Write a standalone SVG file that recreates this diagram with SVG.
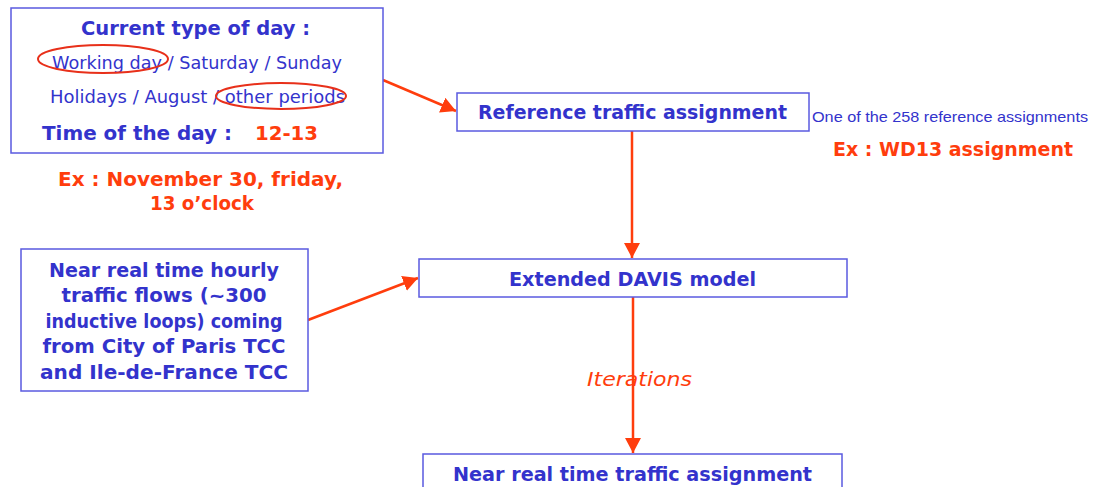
<svg xmlns="http://www.w3.org/2000/svg" width="1093" height="487" viewBox="0 0 1093 487">
<defs>
<style>
.box{fill:#fff;stroke:#5a5ae0;stroke-width:1.5}
.t{font-family:"DejaVu Sans","Liberation Sans",sans-serif;fill:#3333cc}
.n{font-family:"Liberation Sans","DejaVu Sans",sans-serif;fill:#3333cc}
.b{font-weight:bold}
.r{fill:#ff3d0d}
.edge{stroke:#ff3d0d;stroke-width:2.5;fill:none}
.oval{fill:none;stroke:#e8301a;stroke-width:2}
</style>
<marker id="ah" viewBox="0 0 15 16" refX="15" refY="8" markerWidth="15" markerHeight="16" markerUnits="userSpaceOnUse" orient="auto">
<path d="M0,0 L15,8 L0,16 z" fill="#ff3d0d"/>
</marker>
</defs>
<rect width="1093" height="487" fill="#fff"/>
<g id="connectors">
<line class="edge" x1="383" y1="80" x2="456" y2="111" marker-end="url(#ah)"/>
<line class="edge" x1="632" y1="131" x2="632" y2="258" marker-end="url(#ah)"/>
<line class="edge" x1="308" y1="320" x2="418" y2="278" marker-end="url(#ah)"/>
<line class="edge" x1="633" y1="297" x2="633" y2="453" marker-end="url(#ah)"/>
<text class="t r" x="587" y="386" font-size="20" font-style="italic" textLength="105" lengthAdjust="spacingAndGlyphs">Iterations</text>
</g>
<g id="day-box">
<rect class="box" x="11" y="8" width="372" height="145"/>
<text class="t b" x="81" y="35" font-size="20" textLength="229" lengthAdjust="spacingAndGlyphs">Current type of day :</text>
<text class="t" x="52" y="69" font-size="18" textLength="290" lengthAdjust="spacingAndGlyphs">Working day / Saturday / Sunday</text>
<text class="t" x="50" y="103" font-size="18" textLength="295" lengthAdjust="spacingAndGlyphs">Holidays / August / other periods</text>
<text class="t b" x="42" y="140" font-size="20" textLength="190" lengthAdjust="spacingAndGlyphs">Time of the day :</text>
<text class="t b r" x="255" y="140" font-size="20" textLength="63" lengthAdjust="spacingAndGlyphs">12-13</text>
<ellipse class="oval" cx="103" cy="59" rx="65" ry="14"/>
<ellipse class="oval" cx="281" cy="96" rx="65" ry="13"/>
</g>
<g id="example-date">
<text class="t b r" x="58" y="186" font-size="20" textLength="285" lengthAdjust="spacingAndGlyphs">Ex : November 30, friday,</text>
<text class="t b r" x="150" y="210" font-size="20" textLength="104" lengthAdjust="spacingAndGlyphs">13 o’clock</text>
</g>
<g id="reference-assignment">
<rect class="box" x="457" y="93" width="352" height="38"/>
<text class="t b" x="478" y="119" font-size="20" textLength="309" lengthAdjust="spacingAndGlyphs">Reference traffic assignment</text>
</g>
<g id="reference-note">
<text class="n" x="812" y="122" font-size="15" textLength="276" lengthAdjust="spacingAndGlyphs">One of the 258 reference assignments</text>
<text class="t b r" x="833" y="156" font-size="20" textLength="240" lengthAdjust="spacingAndGlyphs">Ex : WD13 assignment</text>
</g>
<g id="flows-box">
<rect class="box" x="21" y="249" width="287" height="142"/>
<g class="t b" font-size="19" text-anchor="middle">
<text x="164" y="277" textLength="230" lengthAdjust="spacingAndGlyphs">Near real time hourly</text>
<text x="164" y="302" textLength="205" lengthAdjust="spacingAndGlyphs">traffic flows (~300</text>
<text x="164" y="328" textLength="237" lengthAdjust="spacingAndGlyphs">inductive loops) coming</text>
<text x="164" y="353" textLength="243" lengthAdjust="spacingAndGlyphs">from City of Paris TCC</text>
<text x="164" y="379" textLength="248" lengthAdjust="spacingAndGlyphs">and Ile-de-France TCC</text>
</g>
</g>
<g id="davis-model">
<rect class="box" x="419" y="259" width="428" height="38"/>
<text class="t b" x="509" y="286" font-size="20" textLength="247" lengthAdjust="spacingAndGlyphs">Extended DAVIS model</text>
</g>
<g id="near-real-time-assignment">
<rect class="box" x="423" y="454" width="419" height="40"/>
<text class="t b" x="453" y="481" font-size="20" textLength="359" lengthAdjust="spacingAndGlyphs">Near real time traffic assignment</text>
</g>
</svg>
